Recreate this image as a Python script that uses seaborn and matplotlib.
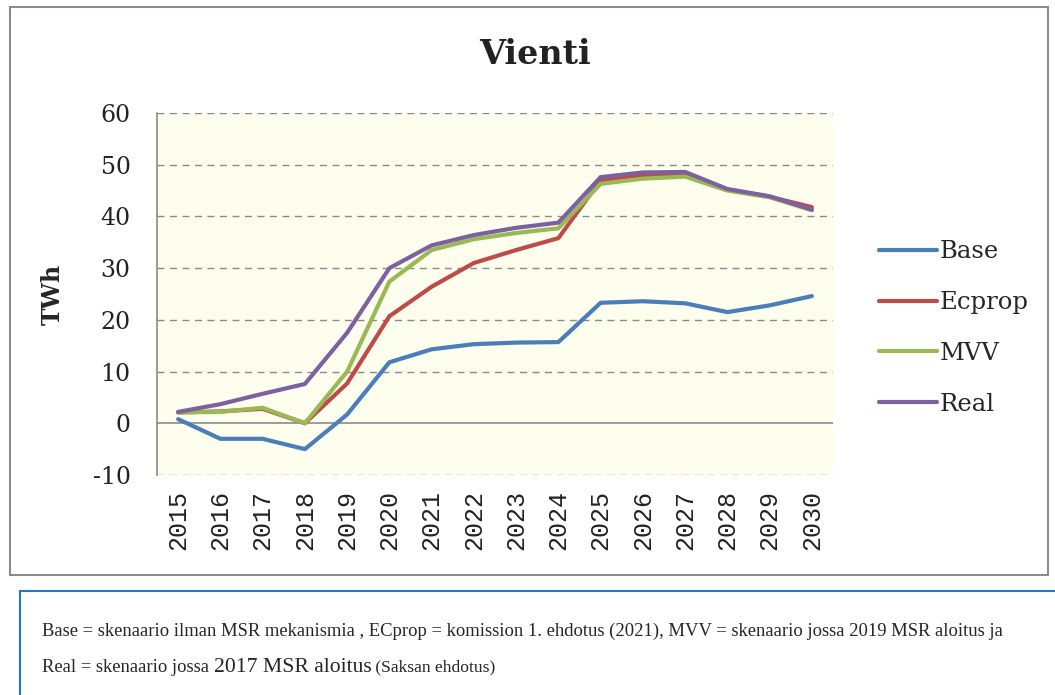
import matplotlib
matplotlib.use("Agg")
import matplotlib.pyplot as plt
import seaborn as sns
import pandas as pd
from matplotlib.patches import Rectangle

years = [str(y) for y in range(2015, 2031)]
base = [0.8, -3.0, -3.0, -5.0, 1.7, 11.8, 14.3, 15.3, 15.6, 15.7, 23.3, 23.6, 23.2, 21.5, 22.8, 24.6]
ecprop = [2.1, 2.3, 2.8, 0.0, 7.7, 20.7, 26.4, 31.0, 33.5, 35.8, 47.0, 48.0, 48.2, 45.2, 43.8, 41.8]
mvv = [2.1, 2.2, 3.0, 0.0, 10.0, 27.4, 33.5, 35.6, 36.8, 37.7, 46.3, 47.3, 47.7, 45.0, 43.7, 41.2]
real = [2.2, 3.7, 5.7, 7.6, 17.5, 30.0, 34.4, 36.4, 37.8, 38.8, 47.6, 48.5, 48.6, 45.3, 43.9, 41.3]
series = {"Base": base, "Ecprop": ecprop, "MVV": mvv, "Real": real}
colors = {"Base": "#4A7EBB", "Ecprop": "#BE4B48", "MVV": "#98B954", "Real": "#7D60A0"}

rows = []
for name, vals in series.items():
    for yr, v in zip(years, vals):
        rows.append({"Vuosi": yr, "TWh": v, "Skenaario": name})
df = pd.DataFrame(rows)

sns.set_style("white")
plt.rcParams["font.family"] = ["DejaVu Serif"]
plt.rcParams["axes.unicode_minus"] = False

W, H = 1055, 695
fig = plt.figure(figsize=(W / 100, H / 100), dpi=100)

# outer chart frame and caption box
fig.patches.append(Rectangle((10 / W, 1 - 575 / H), 1038 / W, 568 / H, transform=fig.transFigure,
                             fill=False, edgecolor="#8c8c8c", linewidth=1.5))
fig.patches.append(Rectangle((20 / W, -0.05), 1.2, (695 - 591) / H + 0.05, transform=fig.transFigure,
                             fill=False, edgecolor="#1f78c8", linewidth=1.5))

ax = fig.add_axes([157 / W, 1 - 475 / H, (833 - 157) / W, (475 - 113) / H])
ax.set_facecolor("#FDFEEE")
sns.lineplot(data=df, x="Vuosi", y="TWh", hue="Skenaario", palette=colors,
             linewidth=3, sort=False, ax=ax, legend=False)

ax.set_xlim(-0.5, len(years) - 0.5)
ax.set_ylim(-10, 60)
ax.set_yticks(range(-10, 61, 10))
for v in range(-10, 61, 10):
    if v != 0:
        ax.axhline(v, color="#8a8a8a", linestyle=(0, (5, 4)), linewidth=1, zorder=0)
ax.axhline(0, color="#8a8a8a", linewidth=1.2, zorder=0)
for s in ["top", "right", "bottom"]:
    ax.spines[s].set_visible(False)
ax.spines["left"].set_color("#8a8a8a")
ax.spines["left"].set_linewidth(1.2)

ax.tick_params(axis="y", length=0, pad=19, labelsize=17, labelcolor="#222222")
ax.tick_params(axis="x", length=0, pad=11)
ax.set_xticks(range(len(years)))
ax.set_xticklabels(years, rotation=90, fontsize=18, family="Liberation Mono", color="#222222")
ax.set_xlabel("")
ax.set_ylabel("TWh", fontsize=17, fontweight="bold")
ax.yaxis.set_label_coords(-(157 - 65) / (833 - 157), 0.5)
fig.text(535 / W, 1 - 55 / H, "Vienti", ha="center", va="center",
         fontsize=24, fontweight="bold", color="#222222")

handles = [plt.Line2D([], [], color=colors[k], linewidth=3) for k in series]
fig.legend(handles, list(series.keys()), loc="center left",
           bbox_to_anchor=(857 / W, 1 - 328 / H), frameon=False, fontsize=17.5,
           handlelength=2.4, handletextpad=0.1, labelspacing=1.15)

cap = "Liberation Serif"
fig.text(42 / W, 1 - 631 / H,
         "Base = skenaario ilman MSR mekanismia , ECprop = komission 1. ehdotus (2021), "
         "MVV = skenaario jossa 2019 MSR aloitus ja",
         family=cap, fontsize=13.4, va="center")
t1 = fig.text(42 / W, 1 - 667 / H, "Real = skenaario jossa ", family=cap, fontsize=13.4, va="center")
fig.canvas.draw()
x2 = t1.get_window_extent().x1 / fig.bbox.width
t2 = fig.text(x2, 1 - 667 / H, "2017 MSR aloitus", family=cap, fontsize=15.6, va="center")
fig.canvas.draw()
x3 = t2.get_window_extent().x1 / fig.bbox.width
fig.text(x3, 1 - 667 / H, " (Saksan ehdotus)", family=cap, fontsize=12.6, va="center")

fig.savefig("out.png", dpi=100)
